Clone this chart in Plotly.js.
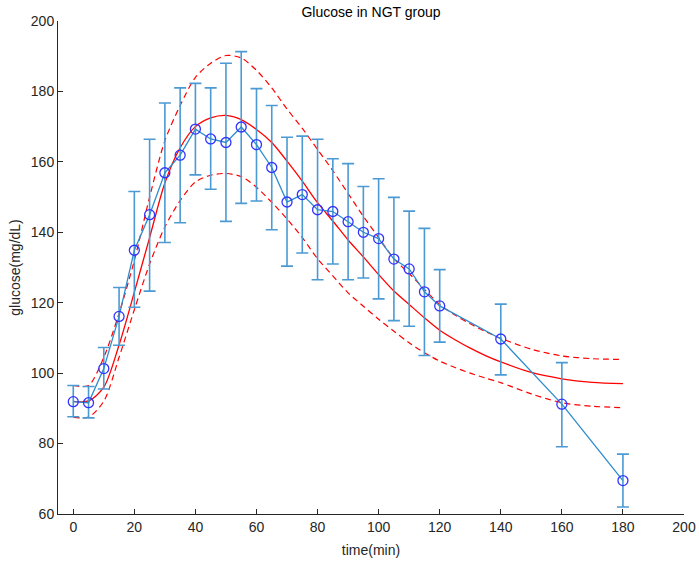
<!DOCTYPE html>
<html>
<head>
<meta charset="utf-8">
<script src="https://cdn.plot.ly/plotly-3.0.1.min.js"></script>
<style>html,body{margin:0;padding:0;background:#fff;}#chart{width:699px;height:566px;}</style>
</head>
<body>
<div id="chart"></div>
<script>
// Measured data (mean with error bar ends)
var timeMin = [0,5,10,15,20,25,30,35,40,45,50,55,60,65,70,75,80,85,90,95,100,105,110,115,120,140,160,180];
var glucoseMean = [91.9,91.6,101.3,116.1,134.9,145.0,156.9,161.9,169.3,166.5,165.5,169.9,164.9,158.4,148.6,150.7,146.4,145.9,143.0,140.0,138.2,132.4,129.6,123.1,119.1,109.7,91.2,69.5];
var glucoseUpper = [96.5,96.2,107.3,124.3,151.6,166.4,176.7,181.0,182.3,181.0,188.0,191.3,180.8,176.0,167.0,167.3,166.4,160.9,159.5,153.0,155.2,149.9,146.0,141.1,129.4,119.6,103.0,77.0];
var glucoseLower = [87.6,87.3,95.5,107.9,118.7,123.3,137.1,142.7,156.3,152.2,143.1,148.2,148.9,140.7,130.4,134.1,126.5,131.0,126.5,127.0,121.1,114.9,113.3,105.0,108.8,99.5,79.1,62.0];

// Model fit and its band
var fitTime  = [0,5,10,15,20,25,30,35,40,45,50,55,60,65,70,75,80,85,90,95,100,105,110,115,120,125,130,135,140,150,160,170,180];
var fitMean  = [92.0,92.1,96.0,108.0,123.0,138.5,154.0,164.0,170.0,172.5,173.2,172.0,169.2,165.5,160.2,154.5,148.4,143.2,137.8,133.0,128.0,123.3,119.5,115.7,112.2,109.5,107.1,105.0,103.2,100.2,98.4,97.4,97.0];
var fitUpper = [96.5,96.5,104.5,117.0,132.0,150.0,166.0,176.0,184.0,188.0,190.2,189.5,186.0,181.0,175.0,169.5,163.5,157.5,151.0,144.5,138.5,132.5,128.3,123.8,119.5,116.5,114.0,111.8,109.9,106.8,104.9,104.1,103.9];
var fitLower = [87.5,87.5,92.0,104.5,118.0,131.0,141.5,149.0,154.3,156.2,156.7,155.8,152.8,148.5,143.8,138.5,132.5,127.6,122.8,119.0,115.3,111.9,108.6,105.8,103.4,101.6,100.0,98.6,97.3,94.1,91.6,90.6,90.2];

var xTicks = [0,20,40,60,80,100,120,140,160,180,200];
var yTicks = [60,80,100,120,140,160,180,200];

var errPlus = glucoseUpper.map(function(u,i){return u - glucoseMean[i];});
var errMinus = glucoseLower.map(function(l,i){return glucoseMean[i] - l;});

var red = '#ff0000';
var traces = [
  {x: fitTime, y: fitUpper, mode:'lines', line:{color:red, width:1.2, dash:'6px,4px', shape:'spline', smoothing:0.8}, hoverinfo:'skip'},
  {x: fitTime, y: fitLower, mode:'lines', line:{color:red, width:1.2, dash:'6px,4px', shape:'spline', smoothing:0.8}, hoverinfo:'skip'},
  {x: fitTime, y: fitMean, mode:'lines', line:{color:red, width:1.3, shape:'spline', smoothing:0.8}},
  {x: timeMin, y: glucoseMean, mode:'lines+markers',
   line:{color:'#2e8bcc', width:1.3},
   marker:{symbol:'circle-open', size:10, color:'#3333ff', line:{width:1.3, color:'#3333ff'}},
   error_y:{type:'data', symmetric:false, array:errPlus, arrayminus:errMinus, color:'#4b9ad4', thickness:1.6, width:6}}
];

var font = {family:'"Liberation Sans", Arial, sans-serif', size:14, color:'#262626'};
var layout = {
  width:699, height:566,
  margin:{l:58, r:15, t:21, b:52},
  paper_bgcolor:'#fff', plot_bgcolor:'#fff',
  showlegend:false,
  font: font,
  title:{text:'Glucose in NGT group', font:{family:font.family, size:14, color:'#000'}, x:0.5, xref:'paper', y:1-12/566, yanchor:'middle'},
  xaxis:{range:[-5,200], tickvals:xTicks, ticktext:xTicks.map(String), ticks:'inside', ticklen:5, tickcolor:'#262626', tickwidth:1,
         showline:true, linecolor:'#262626', linewidth:1, showgrid:false, zeroline:false,
         tickfont:font, title:{text:'time(min)', font:font, standoff:11}},
  yaxis:{range:[60,200], tickvals:yTicks, ticktext:yTicks.map(String), ticks:'inside', ticklen:5, tickcolor:'#262626', tickwidth:1,
         showline:true, linecolor:'#262626', linewidth:1, showgrid:false, zeroline:false,
         tickfont:font, title:{text:'glucose(mg/dL)', font:font, standoff:6}}
};
Plotly.newPlot('chart', traces, layout, {displayModeBar:false, staticPlot:true});
</script>
</body>
</html>
